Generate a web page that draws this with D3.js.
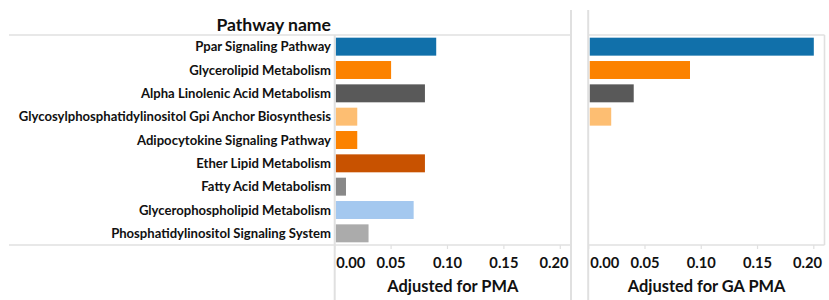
<!DOCTYPE html>
<html><head><meta charset="utf-8">
<script src="https://cdn.jsdelivr.net/npm/d3@7"></script>
<style>body{margin:0;background:#fff}svg{display:block}text{font-family:Lato,"Open Sans",sans-serif;font-weight:bold;fill:#111}</style>
</head><body><svg id="c" width="829" height="300"></svg>
<script>
const pathways = ["Ppar Signaling Pathway","Glycerolipid Metabolism","Alpha Linolenic Acid Metabolism","Glycosylphosphatidylinositol Gpi Anchor Biosynthesis","Adipocytokine Signaling Pathway","Ether Lipid Metabolism","Fatty Acid Metabolism","Glycerophospholipid Metabolism","Phosphatidylinositol Signaling System"];
const adjustedPMA = [0.09,0.05,0.08,0.02,0.02,0.08,0.01,0.07,0.03];
const adjustedGAPMA = [0.20,0.09,0.04,0.02,null,null,null,null,null];
const barColors = ["#1170aa","#fc8200","#595959","#fdbe72","#fc8200","#c85200","#888888","#a4c8ef","#ababab"];
const tickValues = [0,0.05,0.10,0.15,0.20];
const panelTitles = ["Adjusted for PMA","Adjusted for GA PMA"];
const headerTitle = "Pathway name";

(function(){
const svg = d3.select("#c");
const rowTop = 35, rowBottom = 245;
const y = d3.scaleBand().domain(pathways).range([rowTop,rowBottom]).paddingInner(0.23).paddingOuter(0.115);
const gridC = "#e0e0e0";

svg.append("text").attr("x",331).attr("y",31).attr("text-anchor","end").style("font-size","17.6px").text(headerTitle);

svg.append("g").selectAll("text").data(pathways).join("text")
  .attr("x",331).attr("y",d=>y(d)+y.bandwidth()/2).attr("dy","0.36em")
  .attr("text-anchor","end").style("font-size","13.1px").text(d=>d);

[rowTop,rowBottom].forEach(v=>svg.append("line").attr("x1",9).attr("x2",571).attr("y1",v).attr("y2",v).attr("stroke",gridC).attr("stroke-width",1.6));

const panels = [
  {vals:adjustedPMA, x0:334.7, x1:571, title:panelTitles[0]},
  {vals:adjustedGAPMA, x0:588.7, x1:824.5, title:panelTitles[1]}
];
panels.forEach((p,pi)=>{
  const x = d3.scaleLinear().domain([0,0.2095]).range([p.x0,p.x1]);
  const g = svg.append("g");
  if(pi===1){
    [rowTop,rowBottom].forEach(v=>g.append("line").attr("x1",p.x0).attr("x2",p.x1).attr("y1",v).attr("y2",v).attr("stroke",gridC).attr("stroke-width",1.6));
    g.append("line").attr("x1",p.x1).attr("x2",p.x1).attr("y1",rowTop).attr("y2",rowBottom).attr("stroke",gridC).attr("stroke-width",1.6);
  }
  g.selectAll("rect").data(pathways.map((d,i)=>({d,v:p.vals[i],c:barColors[i]})).filter(o=>o.v!=null)).join("rect")
    .attr("x",x(0)+1).attr("y",o=>y(o.d)).attr("height",y.bandwidth())
    .attr("width",o=>x(o.v)-x(0)-1).attr("fill",o=>o.c);
  g.selectAll("line.tk").data(tickValues).join("line").attr("class","tk")
    .attr("x1",d=>x(d)).attr("x2",d=>x(d)).attr("y1",rowBottom).attr("y2",rowBottom+4)
    .attr("stroke",gridC).attr("stroke-width",1.2);
  g.selectAll("text.tl").data(tickValues).join("text").attr("class","tl")
    .attr("x",(d,i)=> i===0 ? x(d)+1.5 : (i===tickValues.length-1 ? p.x1-2.5 : x(d)))
    .attr("text-anchor",(d,i)=> i===0 ? "start" : (i===tickValues.length-1 ? "end" : "middle"))
    .attr("y",268).style("font-size","14.7px").text(d=>d3.format(".2f")(d));
  g.append("text").attr("x",(p.x0+p.x1)/2).attr("y",292).attr("text-anchor","middle").style("font-size","16.4px").text(p.title);
});

svg.append("line").attr("x1",334.7).attr("x2",334.7).attr("y1",rowTop).attr("y2",300).attr("stroke",gridC).attr("stroke-width",2);
[571,588.2].forEach(v=>svg.append("line").attr("x1",v).attr("x2",v).attr("y1",10).attr("y2",300).attr("stroke",gridC).attr("stroke-width",2));
})();
</script></body></html>
